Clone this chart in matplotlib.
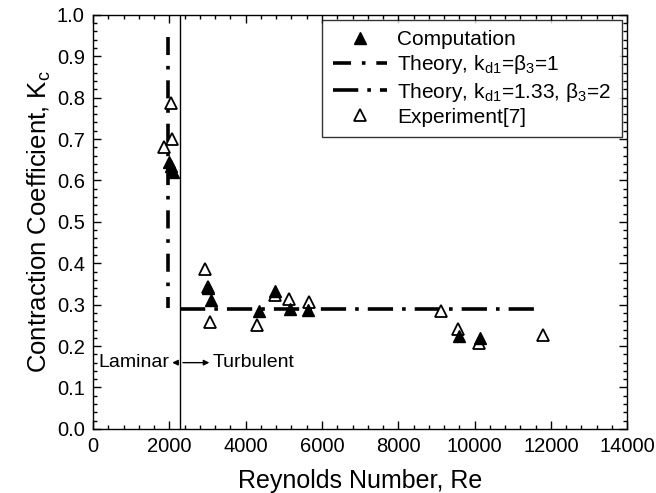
import numpy as np
import matplotlib.pyplot as plt
from matplotlib.ticker import MultipleLocator

plt.rcParams['font.family'] = ['Liberation Sans', 'DejaVu Sans']
plt.rcParams['mathtext.fontset'] = 'custom'
plt.rcParams['mathtext.rm'] = 'Liberation Sans'
plt.rcParams['mathtext.it'] = 'Liberation Sans'

# computed contraction coefficient
re_comp = [1990, 2030, 2090, 3010, 3090, 4350, 4770, 5160, 5630, 9600, 10150]
kc_comp = [0.645, 0.635, 0.62, 0.34, 0.312, 0.285, 0.333, 0.29, 0.287, 0.225, 0.22]

# experiment [7]
re_exp = [1855, 2040, 2065, 2930, 3010, 3060, 4290, 4770, 5140, 5660, 9130, 9570, 10120, 11800]
kc_exp = [0.68, 0.787, 0.70, 0.386, 0.343, 0.258, 0.251, 0.324, 0.314, 0.307, 0.285, 0.242, 0.208, 0.227]

# theory curves
re_th1 = [1960, 1960]
kc_th1 = [0.947, 0.292]
re_th2 = [2280, 11750]
kc_th2 = [0.29, 0.29]

re_crit = 2280

fig = plt.figure(figsize=(6.56, 4.93), dpi=100)
ax = fig.add_axes([0.142, 0.13, 0.814, 0.84])

ax.plot(re_th1, kc_th1, color='black', lw=2.6, dashes=(5, 3, 1, 3),
        label=r'Theory, k$_{\mathregular{d1}}$=$\mathregular{\beta}_{\mathregular{3}}$=1')
ax.plot(re_th2, kc_th2, color='black', lw=2.6, dashes=(7, 2.5, 1, 2.5),
        label=r'Theory, k$_{\mathregular{d1}}$=1.33, $\mathregular{\beta}_{\mathregular{3}}$=2')
ax.plot(re_exp, kc_exp, ls='none', marker='^', ms=9, mfc='white', mec='black',
        mew=1.3, label='Experiment[7]')
ax.plot(re_comp, kc_comp, ls='none', marker='^', ms=9, color='black',
        label='Computation')

ax.axvline(re_crit, color='black', lw=1)

# laminar / turbulent arrows
ax.annotate('', xy=(2000, 0.16), xytext=(re_crit, 0.16),
            arrowprops=dict(arrowstyle='-|>', color='black', lw=1, mutation_scale=8))
ax.annotate('', xy=(3120, 0.16), xytext=(re_crit, 0.16),
            arrowprops=dict(arrowstyle='-|>', color='black', lw=1, mutation_scale=8))
ax.text(2000, 0.16, 'Laminar', ha='right', va='center', fontsize=14)
ax.text(3140, 0.16, 'Turbulent', ha='left', va='center', fontsize=14)

ax.set_xlim(0, 14000)
ax.set_ylim(0, 1.0)
ax.xaxis.set_major_locator(MultipleLocator(2000))
ax.xaxis.set_minor_locator(MultipleLocator(400))
ax.yaxis.set_major_locator(MultipleLocator(0.1))
ax.yaxis.set_minor_locator(MultipleLocator(0.02))
ax.yaxis.set_major_formatter(plt.FormatStrFormatter('%.1f'))
ax.tick_params(which='both', direction='in', top=True, right=True, labelsize=14.5, width=1)
ax.tick_params(which='major', length=6, pad=6)
ax.tick_params(which='minor', length=3)
for s in ax.spines.values():
    s.set_linewidth(1)

ax.set_xlabel('Reynolds Number, Re', fontsize=18, labelpad=9)
ax.set_ylabel(r'Contraction Coefficient, K$_{\mathregular{c}}$', fontsize=18.5, labelpad=3)

h, l = ax.get_legend_handles_labels()
order = [3, 0, 1, 2]
leg = ax.legend([h[i] for i in order], [l[i] for i in order], loc='upper right',
                fontsize=15, frameon=True, fancybox=False, edgecolor='black',
                handlelength=2.6, handletextpad=0.5, labelspacing=0.2,
                borderpad=0.5, borderaxespad=0, bbox_to_anchor=(0.99, 0.988))
leg.get_frame().set_linewidth(1)

fig.savefig('out.png', dpi=100)
